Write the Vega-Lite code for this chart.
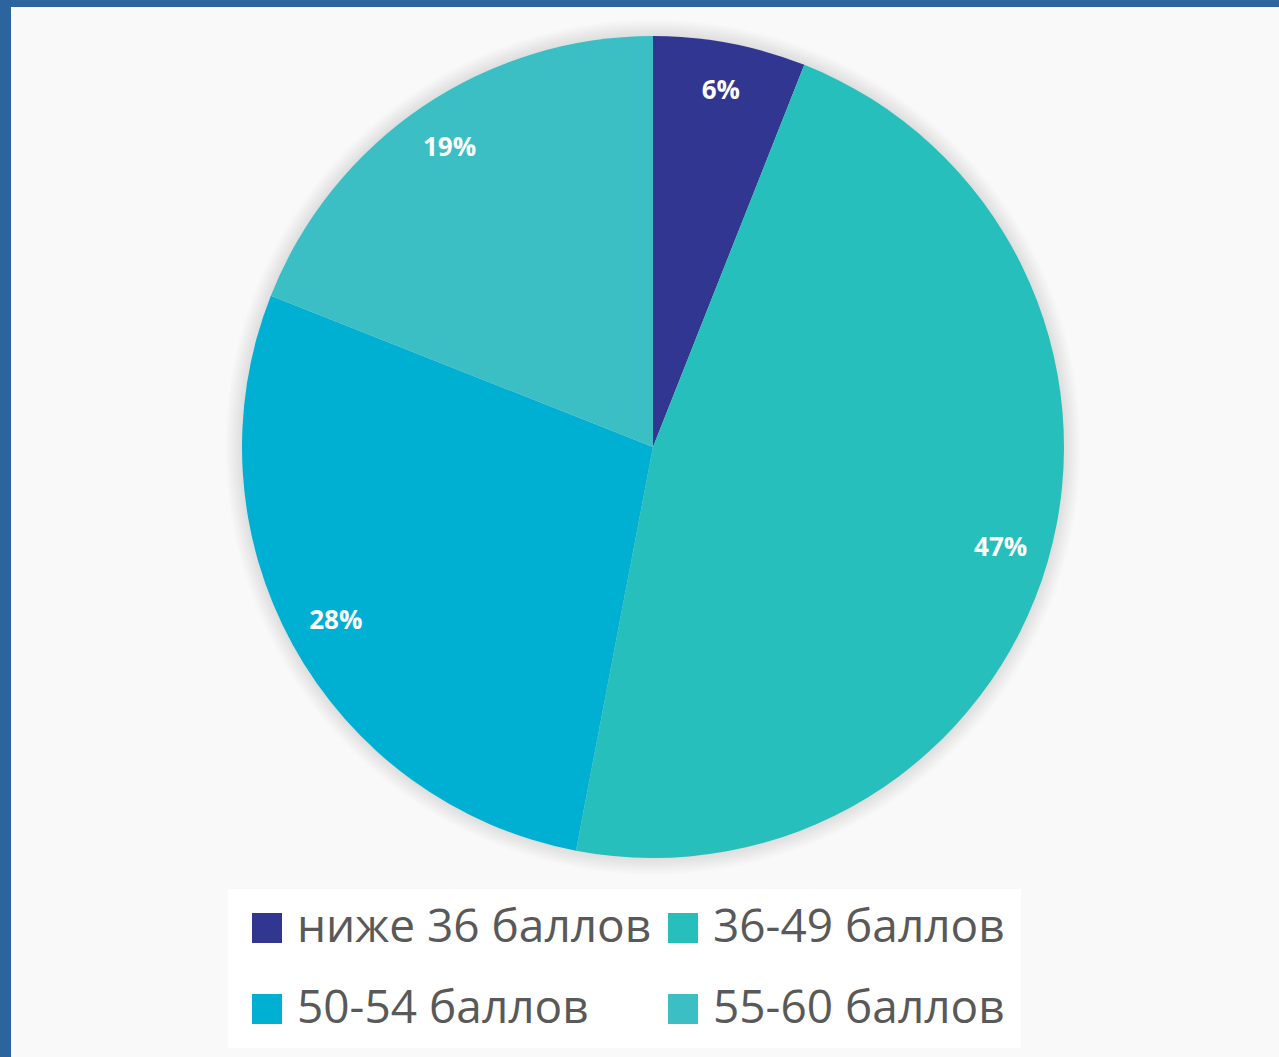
{
  "$schema": "https://vega.github.io/schema/vega-lite/v6.json",
  "width": 1268,
  "height": 1050,
  "autosize": "none",
  "padding": {"left": 11, "top": 7, "right": 0, "bottom": 0},
  "background": "#2C64A0",
  "view": {"stroke": null, "fill": "#f9f9f9"},
  "datasets": {
    "slices": [
      {"cat": "ниже 36 баллов", "pct": 6, "label": "6%", "ord": 1},
      {"cat": "36-49 баллов", "pct": 47, "label": "47%", "ord": 2},
      {"cat": "50-54 баллов", "pct": 28, "label": "28%", "ord": 3},
      {"cat": "55-60 баллов", "pct": 19, "label": "19%", "ord": 4}
    ],
    "halo": [{"v": 100}]
  },
  "layer": [
    {
      "data": {"name": "halo"},
      "mark": {
        "type": "arc",
        "outerRadius": 428,
        "x": {"expr": "width/2+8"},
        "y": {"expr": "height/2-85"},
        "fill": {
          "gradient": "radial",
          "x1": 0.5, "y1": 0.5, "r1": 0,
          "x2": 0.5, "y2": 0.5, "r2": 0.5,
          "stops": [
            {"offset": 0, "color": "rgba(0,0,0,0.12)"},
            {"offset": 0.955, "color": "rgba(0,0,0,0.12)"},
            {"offset": 1, "color": "rgba(0,0,0,0)"}
          ]
        }
      },
      "encoding": {
        "theta": {"field": "v", "type": "quantitative", "stack": true}
      }
    },
    {
      "data": {"name": "slices"},
      "mark": {
        "type": "arc",
        "outerRadius": 411,
        "x": {"expr": "width/2+8"},
        "y": {"expr": "height/2-85"}
      },
      "encoding": {
        "theta": {"field": "pct", "type": "quantitative", "stack": true},
        "order": {"field": "ord"},
        "color": {
          "field": "cat",
          "type": "nominal",
          "scale": {
            "domain": ["ниже 36 баллов", "36-49 баллов", "50-54 баллов", "55-60 баллов"],
            "range": ["#313691", "#27BFBC", "#00B0D3", "#3CBFC4"]
          },
          "legend": {
            "title": null,
            "orient": "none",
            "legendX": 217,
            "legendY": 882,
            "direction": "horizontal",
            "columns": 2,
            "columnPadding": 8,
            "rowPadding": 35,
            "padding": 16,
            "fillColor": "#ffffff",
            "symbolType": "square",
            "symbolSize": 900,
            "symbolStrokeWidth": 0,
            "labelOffset": 7,
            "labelFont": "Open Sans",
            "labelFontSize": 46,
            "labelColor": "#595959",
            "labelLimit": 0
          }
        }
      }
    },
    {
      "data": {"name": "slices"},
      "mark": {
        "type": "text",
        "radius": 362,
        "x": {"expr": "width/2+8"},
        "y": {"expr": "height/2-85"},
        "font": "Open Sans",
        "fontSize": 26,
        "fontWeight": "bold",
        "color": "#ffffff",
        "align": "center",
        "baseline": "middle"
      },
      "encoding": {
        "theta": {"field": "pct", "type": "quantitative", "stack": true},
        "order": {"field": "ord"},
        "text": {"field": "label"}
      }
    }
  ]
}
